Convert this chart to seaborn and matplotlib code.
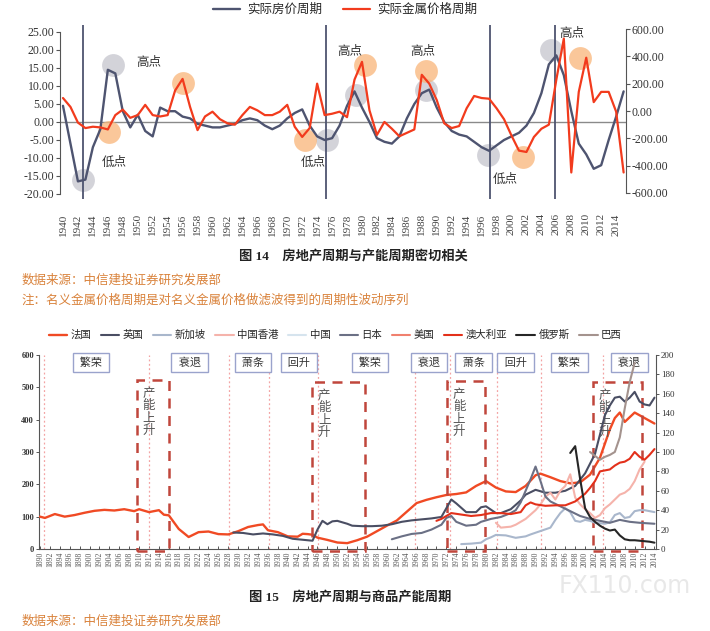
import numpy as np
import pandas as pd
import seaborn as sns
import matplotlib
matplotlib.use('Agg')
import matplotlib.pyplot as plt
from matplotlib.patches import Rectangle
from matplotlib.lines import Line2D
from matplotlib.ticker import FormatStrFormatter

sns.set_theme(style='white')
plt.rcParams['font.family'] = ['Liberation Serif', 'Noto Sans CJK SC']
plt.rcParams['axes.unicode_minus'] = False

# ---------------- figure 14 data ----------------
years14 = list(range(1940, 2016))
house_cycle = [4.5, -6, -16.5, -16, -7, -2, 14.5, 13.5, 3, -1.5,
               2, -2.5, -4, 4, 3, 3, 1.5, 1, -0.5, -1,
               -1.5, -1.5, -1, -0.5, 0.5, 1, 0.5, -1, -2, -1,
               1, 2.5, 3.5, -1, -4, -5, -4.5, -1, 4.5, 8.5,
               4, 0, -4.5, -5.5, -6, -4, 1, 5, 8, 9,
               4, 0, -2.5, -3.5, -4, -5.5, -7, -8, -6.5, -5,
               -4, -3, -1, 2.5, 8, 16, 18.5, 13, 3, -6,
               -9, -13, -12, -5, 1.5, 8.5]
metal_cycle = [95, 30, -85, -125, -115, -120, -135, -30, 10, -50,
               -30, 45, -30, -40, -30, 150, 235, 30, -140, -40,
               -5, -60, -90, -100, -30, 30, 5, -30, -30, -5,
               45, -115, -190, -125, 200, -30, -20, -5, -45, 230,
               360, 5, -175, -80, -130, -185, -160, -135, 265, 200,
               80, -90, -125, -110, 20, 110, 95, 90, 20, -60,
               -180, -290, -300, -190, -130, -100, 230, 530, -450, 140,
               390, 65, 140, 140, -5, -450]

# turning-point markers (left axis units) and labels
grey_marks_x = [1942.7, 1946.7, 1975.3, 1979.2, 1988.6, 1996.9, 2005.3]
grey_marks_y = [-16.1, 15.8, -5, 7.5, 8.9, -9.2, 20]
orange_marks_x = [1946.2, 1956, 1972.4, 1980.4, 1988.6, 2001.6, 2009.1]
orange_marks_y = [-2.7, 10.7, -5, 15.8, 14.2, -9.7, 17.7]
point_labels = [('高点', 1951.5, 16.4), ('低点', 1946.8, -11.3), ('低点', 1973.5, -11.3),
                ('高点', 1978.3, 19.4), ('高点', 1988.1, 19.4), ('低点', 1999.1, -16.1),
                ('高点', 2008.0, 24.4)]
cycle_lines14 = [1942.7, 1975.2, 1997.1, 2005.8]

# ---------------- figure 15 data ----------------
fr_years = [1890, 1891, 1893, 1895, 1897, 1899, 1901, 1903, 1905, 1907, 1909, 1910,
            1912, 1914, 1915, 1916, 1918, 1920, 1922, 1924, 1926, 1928, 1930, 1932,
            1934, 1935, 1936, 1938, 1940, 1942, 1943, 1944, 1945, 1946, 1948, 1950,
            1952, 1954, 1956, 1958, 1960, 1962, 1964, 1966, 1968, 1970, 1972, 1974,
            1976, 1978, 1980, 1982, 1984, 1986, 1988, 1990, 1991, 1993, 1995, 1997,
            1999, 2001, 2003, 2005, 2006, 2007, 2008, 2010, 2012, 2014]
fr_vals = [100, 96, 108, 100, 105, 112, 118, 121, 119, 123, 117, 123,
           114, 120, 106, 104, 62, 37, 52, 54, 46, 45, 55, 68,
           74, 76, 58, 52, 39, 38, 47, 46, 44, 35, 28, 20,
           18, 27, 38, 55, 72, 88, 115, 142, 152, 160, 167, 170,
           175, 195, 210, 190, 178, 176, 195, 228, 233, 222, 210, 203,
           206, 230, 282, 370, 405, 422, 393, 422, 405, 388]

uk_years = [1929, 1931, 1933, 1935, 1937, 1939, 1941, 1943, 1945, 1946, 1947, 1948,
            1949, 1950, 1952, 1953, 1955, 1957, 1959, 1961, 1963, 1965, 1967, 1969,
            1971, 1972, 1973, 1974, 1976, 1978, 1979, 1980, 1982, 1983, 1985, 1987,
            1988, 1990, 1992, 1994, 1996, 1998, 2000, 2001, 2002, 2003, 2004, 2005,
            2006, 2007, 2008, 2009, 2010, 2011, 2012, 2013, 2014]
uk_vals = [17, 16.5, 15, 16, 15, 13.5, 10.5, 9.5, 8.5, 20, 29, 25.5,
           28.5, 29, 26, 24, 23.5, 23.5, 24, 25.5, 28, 29.5, 30.5, 31.5,
           33, 42, 51, 47, 38, 38, 43, 44, 37, 37, 41, 50,
           56, 61, 58, 58, 60, 65, 78, 88, 98, 118, 138, 148,
           156, 157, 152, 156, 162, 152, 149, 148, 156]

sg_years = [1975, 1977, 1979, 1980, 1981, 1982, 1984, 1986, 1988, 1989, 1991, 1993,
            1994, 1995, 1996, 1997, 1998, 1999, 2000, 2001, 2002, 2003, 2004, 2005,
            2006, 2007, 2008, 2009, 2010, 2011, 2012, 2013, 2014]
sg_vals = [5, 5.5, 6.5, 10, 12, 14.5, 14, 11.5, 13, 15, 18.5, 22,
           30, 37, 42, 38, 29, 28, 30, 29, 27, 26.5, 26, 27.5,
           35, 37, 32, 33, 39, 40, 40, 39, 38]

hk_years = [1982, 1983, 1985, 1986, 1988, 1990, 1991, 1992, 1993, 1994, 1995, 1996,
            1997, 1998, 1999, 2000, 2001, 2002, 2003, 2004, 2005, 2006, 2007, 2008,
            2009, 2010, 2011, 2012]
hk_vals = [27, 22, 23, 25, 31, 40, 46, 54, 58, 51, 60, 65,
           77, 53, 46, 41, 37, 32, 35, 42, 46, 51, 56, 58,
           62, 70, 82, 90]

jp_years = [1961, 1963, 1965, 1967, 1969, 1971, 1972, 1973, 1974, 1976, 1978, 1979,
            1981, 1983, 1985, 1986, 1987, 1988, 1989, 1990, 1991, 1992, 1993, 1995,
            1997, 1999, 2001, 2003, 2005, 2007, 2009, 2011, 2014]
jp_vals = [10, 13, 15.5, 16.5, 20, 25, 32, 34, 28, 24, 25, 28,
           31, 33, 37, 40, 48, 60, 72, 85, 70, 54, 49, 44,
           39, 34, 31, 29, 27, 30, 28, 27, 26]

au_years = [1970, 1971, 1973, 1975, 1977, 1979, 1981, 1983, 1985, 1987, 1988, 1989,
            1990, 1992, 1994, 1996, 1998, 2000, 2001, 2002, 2003, 2004, 2005, 2006,
            2007, 2008, 2009, 2010, 2011, 2012, 2013, 2014]
au_vals = [29, 31, 37, 35.5, 34, 35, 37, 37, 36, 38, 45, 48,
           46, 44.5, 45, 45, 49, 57, 63, 70, 80, 81, 82, 86,
           89, 90, 93, 100, 95, 92, 97, 103]

ru_years = [1997, 1998, 1999, 2000, 2001, 2002, 2003, 2004, 2005, 2006, 2007, 2008,
            2009, 2010, 2011, 2012, 2013, 2014]
ru_vals = [99, 106, 72, 42, 33, 28, 24, 21, 19, 20, 14, 10,
           9, 9, 8.5, 8, 7.5, 6.5]

br_years = [2001, 2002, 2003, 2004, 2005, 2006, 2007, 2008, 2009, 2010]
br_vals = [100, 96, 92, 95, 97, 100, 115, 145, 172, 192]

legend15 = ['法国', '英国', '新加坡', '中国香港', '中国', '日本', '美国', '澳大利亚', '俄罗斯', '巴西']
colors15 = {'法国': '#f04a24', '英国': '#4a4e63', '新加坡': '#a9b7cc', '中国香港': '#f5b3ab',
            '中国': '#d6e4ee', '日本': '#6b7085', '美国': '#f0806e', '澳大利亚': '#e3301a',
            '俄罗斯': '#262626', '巴西': '#a4938e'}

phase_labels = [('繁荣', 1900.3), ('衰退', 1920.2), ('萧条', 1933.0), ('回升', 1942.3),
                ('繁荣', 1956.6), ('衰退', 1968.5), ('萧条', 1977.5), ('回升', 1986.0),
                ('繁荣', 1996.8), ('衰退', 2008.9)]
phase_bounds = [1890.8, 1912.1, 1928.2, 1936.3, 1946.1, 1965.7, 1972.7, 1982.2, 1991.2, 2003.7]
capacity_boxes = [(1909.5, 1916.0, 523), (1944.9, 1955.6, 517), (1972.1, 1979.7, 520), (2001.5, 2011.5, 517)]

fig = plt.figure(figsize=(7.1, 6.31), dpi=100)

# ================= figure 14 =================
ax = fig.add_axes([0.0845, 0.684, 0.797, 0.2767])
ax2 = ax.twinx()
GREY = '#4e5470'
RED = '#f23b1d'

ax.axhline(0, color='#8a8a8a', lw=1.0, zorder=1)
for x in cycle_lines14:
    ax.axvline(x, color=GREY, lw=1.3, zorder=2)
ax.scatter(grey_marks_x, grey_marks_y, s=270, color='#bcbcc6', alpha=0.65, lw=0, zorder=1)
ax.scatter(orange_marks_x, orange_marks_y, s=270, color='#f9b578', alpha=0.75, lw=0, zorder=1)

df14 = pd.DataFrame({'year': years14, 'house': house_cycle, 'metal': metal_cycle})
sns.lineplot(data=df14, x='year', y='house', ax=ax, color=GREY, lw=1.7, zorder=3)
sns.lineplot(data=df14, x='year', y='metal', ax=ax2, color=RED, lw=1.6, zorder=3)
h_house = ax.lines[-1]
h_metal = ax2.lines[-1]

for txt, x, y in point_labels:
    ax.text(x, y, txt, ha='center', va='center', fontsize=9, color='#333333', zorder=4)

ax.set_xlim(1939.6, 2015.3)
ax.set_ylim(-21.5, 27)
ax2.set_ylim(-647, 631)
ax.set_yticks(np.arange(-20, 26, 5))
ax2.set_yticks(np.arange(-600, 601, 200))
ax.yaxis.set_major_formatter(FormatStrFormatter('%.2f'))
ax2.yaxis.set_major_formatter(FormatStrFormatter('%.2f'))
ax.set_xticks(range(1940, 2015, 2))
ax.set_xticklabels([str(y) for y in range(1940, 2015, 2)], rotation=90)
ax.set_xlabel('')
ax.set_ylabel('')
ax2.set_ylabel('')
for a in (ax, ax2):
    for s in ('top', 'bottom'):
        a.spines[s].set_visible(False)
ax.spines['right'].set_visible(False)
ax2.spines['left'].set_visible(False)
ax.spines['left'].set_bounds(-20, 25)
ax2.spines['right'].set_bounds(-600, 600)
for sp in (ax.spines['left'], ax2.spines['right']):
    sp.set_color('#555555')
    sp.set_linewidth(0.8)
ax.tick_params(axis='y', left=True, length=3, width=0.8, color='#555555', labelsize=8.5, pad=1, labelcolor='#333333')
ax2.tick_params(axis='y', right=True, length=3, width=0.8, color='#555555', labelsize=8.5, pad=1, labelcolor='#333333')
ax.tick_params(axis='x', bottom=False, labelsize=8, pad=4, labelcolor='#444444')

fig.legend([h_house, h_metal], ['实际房价周期', '实际金属价格周期'], ncol=2, loc='center',
           bbox_to_anchor=(345 / 710, 1 - 10 / 631), frameon=False, fontsize=9,
           handlelength=2.2, columnspacing=1.6, handletextpad=0.6)

fig.text(353 / 710, 1 - 257 / 631, '图 14    房地产周期与产能周期密切相关', ha='center', va='center',
         fontsize=9.5, color='#222222', fontweight='bold')
fig.text(22 / 710, 1 - 280 / 631, '数据来源：中信建投证券研究发展部', ha='left', va='center',
         fontsize=9, color='#d9823b')
fig.text(22 / 710, 1 - 301 / 631, '注：名义金属价格周期是对名义金属价格做滤波得到的周期性波动序列',
         ha='left', va='center', fontsize=9, color='#d9823b')

# ================= figure 15 =================
bx = fig.add_axes([0.0549, 0.13, 0.869, 0.3074])
bx2 = bx.twinx()

for x in phase_bounds:
    bx.axvline(x, color='#f3a3a3', lw=0.9, ls=(0, (1.5, 2)), zorder=1)

handles = {}
sns.lineplot(x=fr_years, y=fr_vals, ax=bx, color=colors15['法国'], lw=1.7, zorder=3)
handles['法国'] = bx.lines[-1]
series_right = [('英国', uk_years, uk_vals), ('新加坡', sg_years, sg_vals),
                ('中国香港', hk_years, hk_vals), ('日本', jp_years, jp_vals),
                ('澳大利亚', au_years, au_vals), ('俄罗斯', ru_years, ru_vals),
                ('巴西', br_years, br_vals)]
for name, yrs, vals in series_right:
    sns.lineplot(x=yrs, y=vals, ax=bx2, color=colors15[name], lw=1.5, zorder=3)
    handles[name] = bx2.lines[-1]
for name in ('中国', '美国'):
    handles[name] = Line2D([], [], color=colors15[name], lw=1.5)

for x0, x1, top in capacity_boxes:
    bx.add_patch(Rectangle((x0, -6), x1 - x0, top + 6, fill=False, ec='#c0463c', lw=1.8,
                           ls=(0, (4, 3)), clip_on=False, zorder=4))
    bx.text(x0 + 1.2, top - 25, '产\n能\n上\n升', ha='left', va='top', fontsize=9,
            color='#555555', linespacing=1.05, zorder=5)

for txt, x in phase_labels:
    bx.text(x, 576, ' ' + txt + ' ', ha='center', va='center', fontsize=8, color='#333333', zorder=6,
            bbox=dict(boxstyle='square,pad=0.4', fc='white', ec='#9aa3cc', lw=1.0))

bx.set_xlim(1889.8, 2014.3)
bx.set_ylim(0, 600)
bx2.set_ylim(0, 200)
bx.set_yticks(range(0, 601, 100))
bx2.set_yticks(range(0, 201, 20))
bx.set_xticks(range(1890, 2015, 2))
bx.set_xticklabels([str(y) for y in range(1890, 2015, 2)], rotation=90)
for a in (bx, bx2):
    a.spines['top'].set_visible(False)
    a.set_xlabel('')
    a.set_ylabel('')
bx.spines['right'].set_visible(False)
bx2.spines['left'].set_visible(False)
bx2.spines['bottom'].set_visible(False)
for sp in (bx.spines['left'], bx.spines['bottom'], bx2.spines['right']):
    sp.set_color('#555555')
    sp.set_linewidth(0.8)
bx.tick_params(axis='y', left=True, length=2.5, width=0.7, color='#555555', labelsize=6, pad=1,
               labelcolor='#333333')
bx2.tick_params(axis='y', right=True, length=2.5, width=0.7, color='#555555', labelsize=6.5, pad=1,
                labelcolor='#333333')
bx.tick_params(axis='x', bottom=True, direction='in', length=2.5, width=0.7, color='#555555',
               labelsize=5.5, pad=2, labelcolor='#555555')
for lab in bx.get_yticklabels():
    lab.set_fontweight('bold')

fig.legend([handles[n] for n in legend15], legend15, ncol=10, loc='center',
           bbox_to_anchor=(335 / 710, 1 - 335 / 631), frameon=False, fontsize=7.5,
           handlelength=1.8, handletextpad=0.3, columnspacing=0.9)

fig.text(350 / 710, 1 - 598 / 631, '图 15    房地产周期与商品产能周期', ha='center', va='center',
         fontsize=9.5, color='#222222', fontweight='bold')
fig.text(22 / 710, 1 - 621 / 631, '数据来源：中信建投证券研究发展部', ha='left', va='center',
         fontsize=9, color='#d9823b')
fig.text(625 / 710, 1 - 586 / 631, 'FX110.com', ha='center', va='center', fontsize=17,
         color='#e8e8e8', family=['DejaVu Sans'], zorder=0)

fig.savefig('out.png', dpi=100)
